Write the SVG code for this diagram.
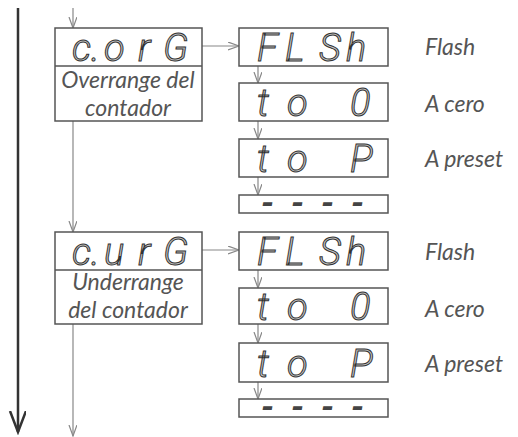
<svg xmlns="http://www.w3.org/2000/svg" width="518" height="437" viewBox="0 0 518 437">
<style>
.box{fill:#fff;stroke:#555;stroke-width:1.5}
.seg{font-family:Roboto,"DejaVu Sans",sans-serif;font-style:italic;font-weight:300;font-size:38px;fill:#c8c8c8;stroke:#333;stroke-width:1}
.dash{font-family:Roboto,"DejaVu Sans",sans-serif;font-style:italic;font-weight:700;font-size:34px;fill:#444}
.lbl{font-family:Lato,"Open Sans",sans-serif;font-style:italic;font-size:23px;fill:#555}
.con{stroke:#888;stroke-width:1.2;fill:none}
</style>
<defs>
<marker id="ah" markerUnits="userSpaceOnUse" markerWidth="12" markerHeight="10" refX="11" refY="4" orient="auto">
<path d="M0,0 L11,4 L0,8" fill="none" stroke="#888" stroke-width="1.2"/>
</marker>
<marker id="big" markerUnits="userSpaceOnUse" markerWidth="24" markerHeight="18" refX="21" refY="8" orient="auto">
<path d="M0,0 L21,8 L0,16" fill="none" stroke="#333" stroke-width="2.5"/>
</marker>
</defs>
<g id="connectors">
<line x1="18" y1="8" x2="18" y2="432" stroke="#333" stroke-width="2.5" marker-end="url(#big)"/>
<line class="con" x1="73" y1="8" x2="73" y2="28" marker-end="url(#ah)"/>
<line class="con" x1="73" y1="121" x2="73" y2="232" marker-end="url(#ah)"/>
<line class="con" x1="73" y1="324" x2="73" y2="436" marker-end="url(#ah)"/>
<line class="con" x1="202" y1="46" x2="239" y2="46" marker-end="url(#ah)"/>
<line class="con" x1="202" y1="250" x2="239" y2="250" marker-end="url(#ah)"/>
<line class="con" x1="258" y1="66" x2="258" y2="83" marker-end="url(#ah)"/>
<line class="con" x1="258" y1="121" x2="258" y2="139" marker-end="url(#ah)"/>
<line class="con" x1="258" y1="177" x2="258" y2="195" marker-end="url(#ah)"/>
<line class="con" x1="258" y1="270" x2="258" y2="288" marker-end="url(#ah)"/>
<line class="con" x1="258" y1="324" x2="258" y2="343" marker-end="url(#ah)"/>
<line class="con" x1="258" y1="382" x2="258" y2="399" marker-end="url(#ah)"/>
</g>
<g id="corG">
<rect class="box" x="55" y="28" width="147" height="93"/>
<line x1="55" y1="66" x2="202" y2="66" stroke="#555" stroke-width="1.5"/>
<text class="seg" x="72 91 104 138 163" y="61">c.orG</text>
<text class="lbl" x="128" y="88" text-anchor="middle">Overrange del</text>
<text class="lbl" x="128" y="116" text-anchor="middle">contador</text>
</g>
<g id="curG">
<rect class="box" x="55" y="232" width="147" height="92"/>
<line x1="55" y1="270" x2="202" y2="270" stroke="#555" stroke-width="1.5"/>
<text class="seg" x="72 91 104 138 163" y="265">c.urG</text>
<text class="lbl" x="128" y="290" text-anchor="middle">Underrange</text>
<text class="lbl" x="128" y="318" text-anchor="middle">del contador</text>
</g>
<g id="flsh1">
<rect class="box" x="239" y="28" width="149" height="38"/>
<text class="seg" x="257 285 319 346" y="61">FLSh</text>
</g>
<g id="to01">
<rect class="box" x="239" y="83" width="149" height="38"/>
<text class="seg" x="257 287 350" y="116">to0</text>
</g>
<g id="toP1">
<rect class="box" x="239" y="139" width="149" height="38"/>
<text class="seg" x="257 287 350" y="172">toP</text>
</g>
<g id="dash1">
<rect class="box" x="239" y="195" width="149" height="18"/>
<text class="dash" x="261 291 321 351" y="214">----</text>
</g>
<g id="flsh2">
<rect class="box" x="239" y="232" width="149" height="38"/>
<text class="seg" x="257 285 319 346" y="265">FLSh</text>
</g>
<g id="to02">
<rect class="box" x="239" y="288" width="149" height="36"/>
<text class="seg" x="257 287 350" y="320">to0</text>
</g>
<g id="toP2">
<rect class="box" x="239" y="343" width="149" height="39"/>
<text class="seg" x="257 287 350" y="377">toP</text>
</g>
<g id="dash2">
<rect class="box" x="239" y="399" width="149" height="18"/>
<text class="dash" x="261 291 321 351" y="418">----</text>
</g>
<g id="labels">
<text class="lbl" x="425" y="55">Flash</text>
<text class="lbl" x="425" y="112">A cero</text>
<text class="lbl" x="425" y="167">A preset</text>
<text class="lbl" x="425" y="260">Flash</text>
<text class="lbl" x="425" y="317">A cero</text>
<text class="lbl" x="425" y="372">A preset</text>
</g>
</svg>
